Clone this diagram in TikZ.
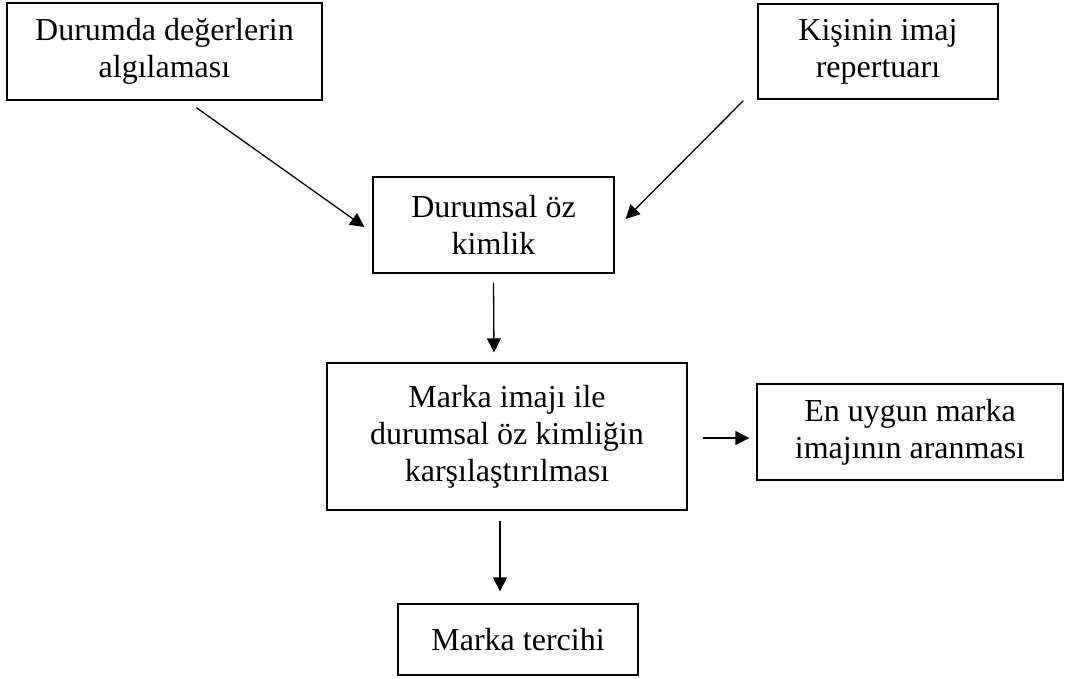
\documentclass[tikz,border=0pt]{standalone}
\usepackage{fontspec}
\setmainfont{Liberation Serif}
\usetikzlibrary{arrows.meta,calc}
\begin{document}
\begin{tikzpicture}[x=1pt,y=-1pt,
  box/.style={draw=black, line width=1.3pt, inner sep=0pt, align=center,
    font=\fontsize{32}{37}\selectfont},
  arr/.style={draw=black, line width=1.3pt, -{Triangle[length=14pt,width=14pt]}}]
\useasboundingbox (0,0) rectangle (1065,679);
\node[box, minimum width=315pt, minimum height=97pt] (b1) at (164.5,51.5) {Durumda değerlerin\\algılaması};
\node[box, minimum width=240pt, minimum height=95pt] (b2) at (878,51.5) {Kişinin imaj\\repertuarı};
\node[box, minimum width=241pt, minimum height=96pt] (b3) at (493.5,225) {Durumsal öz\\kimlik};
\node[box, minimum width=360pt, minimum height=147pt] (b4) at (507,436.5) {Marka imajı ile\\durumsal öz kimliğin\\karşılaştırılması};
\node[box, minimum width=306pt, minimum height=96pt] (b5) at (910,432) {En uygun marka\\imajının aranması};
\node[box, minimum width=240pt, minimum height=71pt] (b6) at (518,639.5) {Marka tercihi};
\draw[arr] ($(b1.south west)+(190,7)$) -- ($(b3.west)+(-8,2)$);
\draw[arr] ($(b2.south west)+(-14,1)$) -- ($(b3.east)+(11,-6)$);
\draw[arr] ($(b3.south)+(0,9)$) -- ($(b4.north)+(-13,-10)$);
\draw[arr] ($(b4.east)+(15,1.5)$) -- ($(b5.west)+(-7,6)$);
\draw[arr] ($(b4.south)+(-7,10)$) -- ($(b6.north)+(-18,-12)$);
\end{tikzpicture}
\end{document}
